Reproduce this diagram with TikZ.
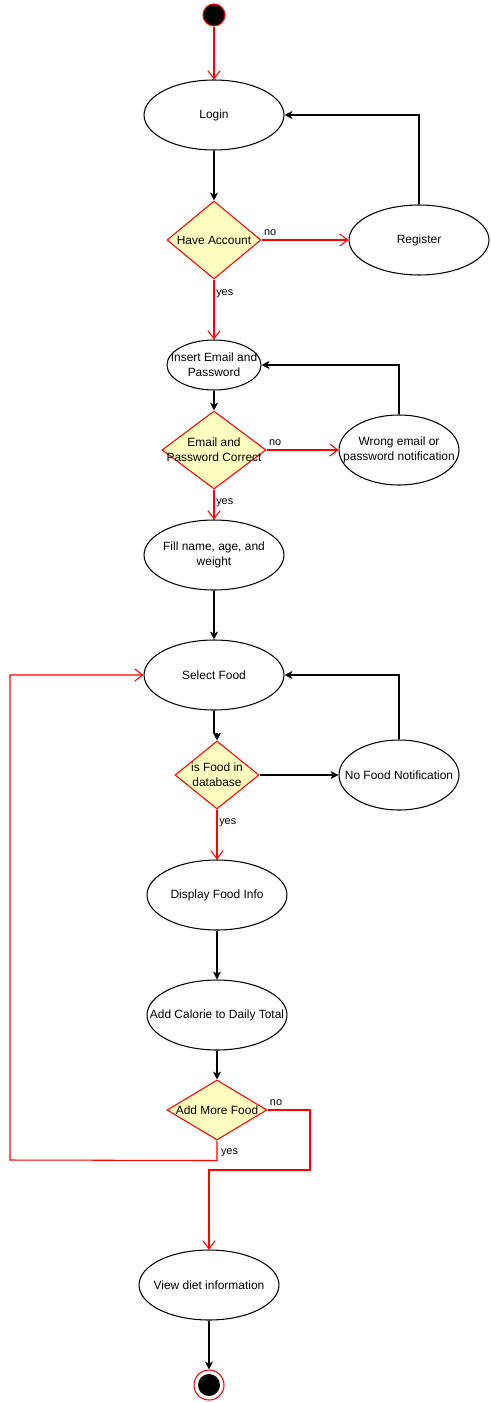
\documentclass[tikz,border=0pt]{standalone}
\usepackage{fontspec}
\setmainfont{Liberation Sans}
\usetikzlibrary{shapes.geometric,arrows.meta}
\definecolor{decfill}{HTML}{FFFFC0}
\begin{document}
\begin{tikzpicture}[x=0.02cm, y=-0.02cm,
		txt/.style={align=center, inner sep=0pt, font=\fontsize{6.8}{8.5}\selectfont},
		activity/.style 2 args={ellipse, draw, line width=0.6pt, inner sep=0pt, minimum width=#1, minimum height=#2},
		decision/.style 2 args={diamond, draw=red, fill=decfill, line width=0.6pt, inner sep=0pt, minimum width=#1, minimum height=#2},
		lbl/.style={inner sep=0pt, font=\fontsize{6.2}{7}\selectfont},
		flow/.style={-{Stealth[length=4.5pt, width=4.5pt, inset=1.2pt]}, line width=0.6pt},
		redflow/.style={draw=red, -{Straight Barb[length=4.5pt, width=7pt]}, line width=0.6pt}
		]
		\useasboundingbox (0,0) rectangle (490,1402);
		
		% Login and registration
		\node[circle, draw=red, fill=black, line width=0.6pt, minimum size=0.44cm, inner sep=0pt] (start) at (214,15) {};
		\node[activity={2.8cm}{1.4cm}, label={[txt]center:Login}] (login) at (214,115) {};
		\node[decision={1.88cm}{1.56cm}, label={[txt]center:Have Account}] (have) at (214,240) {};
		\node[activity={2.8cm}{1.4cm}, label={[txt]center:Register}] (reg) at (419,240) {};
		\node[activity={1.88cm}{1.0cm}, label={[txt]center:{Insert Email and\\Password}}] (insert) at (214,365) {};
		\node[decision={2.08cm}{1.56cm}, label={[txt]center:{Email and\\Password Correct}}] (correct) at (214,450) {};
		\node[activity={2.4cm}{1.4cm}, label={[txt]center:{Wrong email or\\password notification}}] (wrong) at (399,450) {};
		\node[activity={2.8cm}{1.4cm}, label={[txt]center:{Fill name, age, and\\weight}}] (fill) at (214,555) {};
		
		% Food selection loop
		\node[activity={2.8cm}{1.4cm}, label={[txt]center:Select Food}] (select) at (214,675) {};
		\node[decision={1.68cm}{1.36cm}, label={[txt]center:{is Food in\\database}}] (isfood) at (217,775) {};
		\node[activity={2.4cm}{1.4cm}, label={[txt]center:No Food Notification}] (nofood) at (399,775) {};
		\node[activity={2.8cm}{1.4cm}, label={[txt]center:Display Food Info}] (display) at (217,895) {};
		\node[activity={2.8cm}{1.4cm}, label={[txt]center:Add Calorie to Daily Total}] (addcal) at (217,1015) {};
		\node[decision={2.0cm}{1.2cm}, label={[txt]center:Add More Food}] (more) at (217,1110) {};
		\node[activity={2.8cm}{1.4cm}, label={[txt]center:View diet information}] (view) at (209,1285) {};
		\node[circle, draw=red, fill=white, line width=0.6pt, minimum size=0.6cm, inner sep=0pt] (stop) at (209,1385) {};
		\node[circle, fill=black, minimum size=0.44cm, inner sep=0pt] (stopdot) at (stop) {};
		
		\draw[redflow] (start) -- (login);
		\draw[flow] (login) -- (have);
		\draw[redflow] (have) -- node[lbl, above=2pt, pos=0.1] (hno) {no} (reg);
		\draw[flow] (reg.north) |- (login.east);
		\draw[redflow] (have) -- node[lbl, right=1pt, pos=0.23] (hyes) {yes} (insert);
		\draw[flow] (insert) -- (correct);
		\draw[redflow] (correct) -- node[lbl, above=2pt, pos=0.12] (cno) {no} (wrong);
		\draw[flow] (wrong.north) |- (insert.east);
		\draw[redflow] (correct) -- node[lbl, right=1pt, pos=0.45] (cyes) {yes} (fill);
		\draw[flow] (fill) -- (select);
		\draw[flow] (select.south) -- ++(0,23) -| (isfood.north);
		\draw[flow] (isfood) -- (nofood);
		\draw[flow] (nofood.north) |- (select.east);
		\draw[redflow] (isfood) -- node[lbl, right=1pt, pos=0.27] (fyes) {yes} (display);
		\draw[flow] (display) -- (addcal);
		\draw[flow] (addcal) -- (more);
		% yes goes back to Select Food, no goes on to the summary
		\draw[redflow] (more.south) -- node[lbl, right=2pt, pos=0.6] (myes) {yes} ++(0,20) -- (10,1160) |- (select.west);
		\draw[redflow] (more.east) -- node[lbl, above=2pt, pos=0.2] (mno) {no} (310,1110) -- (310,1170) -| (view.north);
		\draw[flow] (view) -- (stop);
	\end{tikzpicture}
\end{document}
